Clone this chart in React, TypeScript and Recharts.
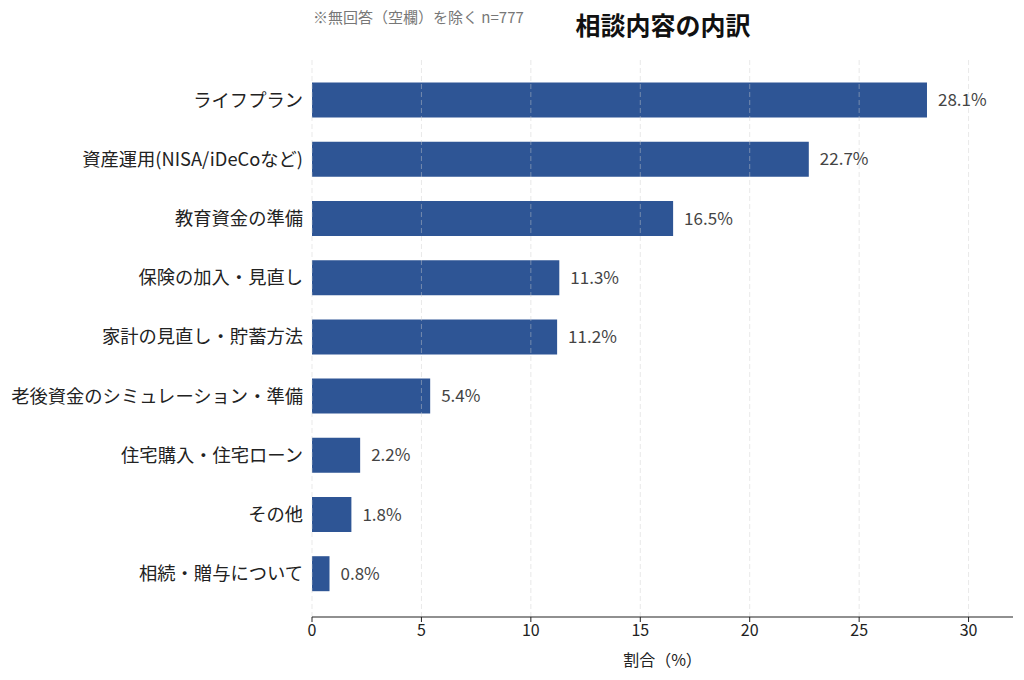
import React from "react";
import { BarChart, Bar, XAxis, YAxis, ReferenceLine, LabelList } from "recharts";

const categories = [
  "ライフプラン",
  "資産運用(NISA/iDeCoなど)",
  "教育資金の準備",
  "保険の加入・見直し",
  "家計の見直し・貯蓄方法",
  "老後資金のシミュレーション・準備",
  "住宅購入・住宅ローン",
  "その他",
  "相続・贈与について",
];
const values = [28.1, 22.7, 16.5, 11.3, 11.2, 5.4, 2.2, 1.8, 0.8];
const xTicks = [0, 5, 10, 15, 20, 25, 30];

const data = categories.map((name, i) => ({ name, value: values[i] }));

const FONT = "'Noto Sans CJK JP', 'Noto Sans', sans-serif";

export default function App() {
  return (
    <div style={{ position: "absolute", left: 0, top: 0, width: 1024, height: 680, background: "#fff", fontFamily: FONT }}>
      <div style={{ position: "absolute", left: 313, top: 6, fontSize: 15, color: "#777", whiteSpace: "nowrap", lineHeight: "22px" }}>
        ※無回答（空欄）を除く n=777
      </div>
      <div style={{ position: "absolute", left: 563, width: 200, top: 7, textAlign: "center", fontSize: 25, fontWeight: 700, color: "#111", whiteSpace: "nowrap", lineHeight: "34px" }}>
        相談内容の内訳
      </div>
      <BarChart
        width={1024}
        height={680}
        data={data}
        layout="vertical"
        margin={{ top: 57, right: 11, bottom: 0, left: 0 }}
      >
        <XAxis
          type="number"
          domain={[0, 32.03]}
          ticks={xTicks}
          allowDataOverflow
          height={63}
          tick={{ fontSize: 16, fill: "#222", fontFamily: FONT }}
          tickSize={5}
          tickMargin={3}
          stroke="#222"
          tickLine={{ stroke: "#222" }}
          axisLine={{ stroke: "#222", strokeWidth: 1.2 }}
          label={{ value: "割合（%）", position: "insideBottom", offset: 14, fontSize: 16, fill: "#222", fontFamily: FONT }}
        />
        <YAxis
          type="category"
          dataKey="name"
          width={312}
          axisLine={false}
          tickLine={false}
          tickSize={0}
          tickMargin={9}
          padding={{ top: 13.6, bottom: 13.6 }}
          tick={{ fontSize: 18.3, fill: "#222", fontFamily: FONT }}
          interval={0}
        />
        <Bar dataKey="value" fill="#2e5595" barSize={35} isAnimationActive={false}>
          <LabelList
            dataKey="value"
            position="right"
            offset={11}
            formatter={(v: number) => `${v.toFixed(1)}%`}
            style={{ fontSize: 17, fill: "#444", fontFamily: FONT }}
          />
        </Bar>
        {xTicks.map((t) => (
          <ReferenceLine key={t} x={t} stroke="#ccc" strokeDasharray="5 3" strokeOpacity={0.45} />
        ))}
      </BarChart>
    </div>
  );
}
